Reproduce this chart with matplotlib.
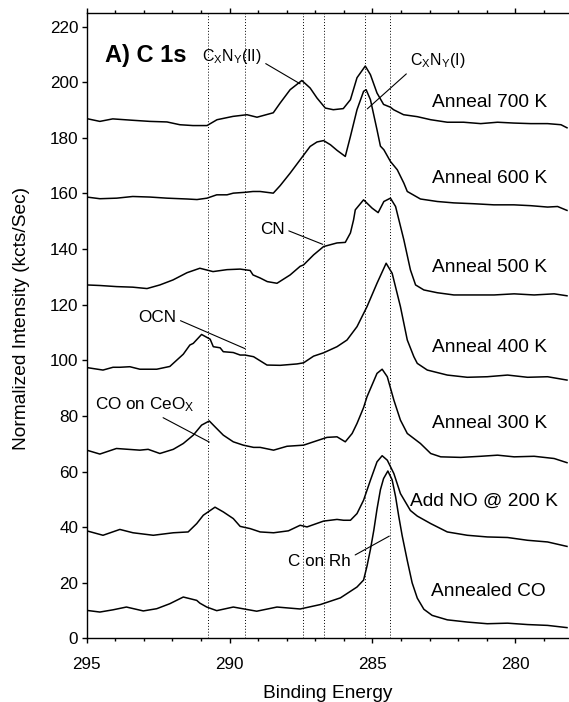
import matplotlib
matplotlib.use("Agg")
import matplotlib.pyplot as plt
from matplotlib.ticker import MultipleLocator

plt.rcParams['font.family'] = ['Liberation Sans', 'DejaVu Sans']
plt.rcParams['mathtext.default'] = 'regular'

# ---------------- data ----------------
e700 = [295.0, 294.54, 294.09, 293.39, 292.79, 292.19, 291.74, 291.28, 290.79, 290.44, 289.88, 289.39, 289.04,
        288.47, 288.23, 287.88, 287.47, 287.18, 286.94, 286.65, 286.37, 286.02, 285.77, 285.54, 285.25, 285.07,
        284.84, 284.61, 284.37, 284.26, 283.91, 283.43, 282.96, 282.38, 281.81, 281.21, 280.62, 280.05, 279.46,
        278.87, 278.40, 278.19]
i700 = [186.9, 185.9, 186.8, 186.3, 185.9, 185.7, 184.7, 184.4, 184.4, 186.5, 187.7, 188.3, 187.4,
        189.0, 192.5, 197.3, 200.6, 197.9, 194.3, 190.7, 190.1, 190.5, 193.7, 201.6, 205.8, 202.7,
        196.1, 192.0, 191.0, 190.1, 188.3, 187.6, 186.5, 185.6, 185.6, 185.1, 185.6, 185.3, 185.1,
        185.1, 184.7, 183.6]

e600 = [295.0, 294.54, 293.95, 293.39, 292.79, 292.19, 291.49, 291.14, 290.79, 290.45, 290.09, 289.87, 289.46,
        289.18, 288.93, 288.47, 288.23, 287.88, 287.53, 287.18, 286.94, 286.71, 286.47, 286.24, 285.95, 285.77,
        285.54, 285.31, 285.22, 285.07, 284.84, 284.72, 284.60, 284.37, 284.13, 283.90, 283.78, 283.32, 282.73,
        282.15, 281.46, 280.75, 280.05, 279.46, 278.87, 278.52, 278.19]
i600 = [158.7, 158.1, 158.3, 158.9, 158.7, 158.3, 158.0, 157.8, 158.3, 159.5, 159.5, 160.1, 160.4,
        160.7, 160.7, 160.1, 162.8, 167.3, 172.1, 176.9, 178.5, 179.0, 177.5, 175.5, 173.3, 180.5,
        190.1, 196.7, 197.3, 193.7, 182.9, 177.0, 175.7, 171.5, 168.5, 163.7, 160.7, 158.0, 157.1,
        156.6, 156.3, 155.9, 155.9, 155.6, 155.1, 155.3, 153.9]

e500 = [295.0, 294.54, 293.95, 293.39, 292.89, 292.44, 291.98, 291.49, 291.04, 290.58, 290.09, 289.63, 289.28,
        289.18, 288.93, 288.68, 288.34, 287.88, 287.53, 287.41, 287.06, 286.71, 286.24, 285.95, 285.77, 285.66,
        285.60, 285.31, 285.01, 284.80, 284.60, 284.37, 284.19, 283.90, 283.67, 283.49, 283.20, 282.73, 282.15,
        281.45, 280.74, 280.04, 279.34, 278.64, 278.19]
i500 = [127.1, 126.9, 126.5, 126.3, 125.8, 127.1, 128.9, 131.5, 133.1, 131.9, 132.6, 132.8, 132.3,
        130.7, 129.6, 128.3, 127.7, 130.7, 133.8, 134.3, 137.9, 140.9, 142.2, 142.4, 145.8, 150.5,
        154.1, 157.7, 154.7, 153.1, 157.1, 158.3, 155.3, 143.3, 132.5, 127.1, 125.3, 124.3, 123.5,
        123.5, 123.5, 123.9, 123.5, 123.9, 123.2]

e400 = [295.0, 294.43, 294.08, 293.84, 293.49, 293.14, 292.85, 292.55, 292.09, 291.62, 291.39, 291.27, 290.98,
        290.68, 290.57, 290.33, 290.22, 289.87, 289.63, 289.46, 289.16, 288.69, 288.23, 287.64, 287.41, 287.06,
        286.71, 286.24, 285.89, 285.54, 285.19, 284.84, 284.52, 284.31, 284.02, 283.78, 283.55, 283.43, 283.08,
        282.38, 281.68, 280.98, 280.27, 279.57, 278.87, 278.19]
i400 = [97.4, 96.5, 97.5, 97.5, 97.7, 96.8, 96.8, 96.8, 97.8, 102.2, 105.5, 106.1, 109.3,
        107.6, 104.9, 104.5, 103.1, 102.8, 101.9, 101.9, 101.3, 98.3, 98.2, 98.7, 99.1, 101.5,
        102.7, 104.9, 107.3, 112.1, 119.3, 127.7, 134.9, 131.3, 119.3, 107.3, 101.3, 98.9, 96.5,
        94.7, 93.9, 94.1, 94.7, 93.9, 94.1, 92.9]

e300 = [295.0, 294.54, 293.96, 293.14, 292.85, 292.44, 291.97, 291.62, 291.27, 290.98, 290.71, 290.51, 290.22,
        289.87, 289.52, 289.16, 288.93, 288.46, 287.99, 287.41, 287.06, 286.59, 286.24, 285.95, 285.71, 285.54,
        285.31, 285.19, 284.84, 284.66, 284.48, 284.25, 284.02, 283.78, 283.32, 282.96, 282.61, 281.91, 281.21,
        280.62, 280.04, 279.34, 278.64, 278.19]
i300 = [67.7, 66.3, 68.3, 67.7, 68.0, 66.5, 68.0, 70.1, 73.1, 76.7, 78.2, 76.1, 73.1,
        70.7, 69.5, 68.7, 68.7, 67.7, 69.1, 69.5, 70.7, 72.3, 72.5, 70.7, 73.7, 77.3,
        83.0, 86.9, 95.3, 96.8, 94.1, 85.7, 78.5, 73.7, 70.1, 66.5, 65.3, 65.1, 65.5,
        65.9, 65.3, 65.5, 64.7, 63.2]

e200 = [295.0, 294.43, 293.84, 293.38, 292.67, 291.97, 291.45, 291.15, 290.92, 290.51, 290.22, 289.87, 289.63,
        289.28, 288.93, 288.46, 287.94, 287.53, 287.29, 286.71, 286.24, 286.01, 285.77, 285.54, 285.31, 285.07,
        284.84, 284.66, 284.48, 284.25, 284.02, 283.67, 283.43, 282.96, 282.38, 281.68, 280.98, 280.27, 279.57,
        278.87, 278.19]
i200 = [38.7, 37.1, 39.2, 38.0, 37.1, 38.0, 38.3, 41.3, 44.3, 47.2, 45.5, 43.1, 40.3,
        39.5, 38.3, 38.0, 38.7, 40.7, 40.1, 42.2, 42.8, 42.5, 42.5, 44.9, 49.7, 56.9,
        63.5, 65.7, 64.1, 59.3, 52.1, 46.0, 44.0, 41.3, 38.3, 37.1, 36.5, 36.3, 35.3,
        34.7, 33.1]

eCO = [295.0, 294.54, 294.08, 293.61, 293.02, 292.55, 292.09, 291.62, 291.15, 291.04, 290.80, 290.45, 289.87,
       289.05, 288.34, 287.53, 286.82, 286.12, 285.54, 285.31, 285.19, 285.07, 284.95, 284.84, 284.72, 284.61,
       284.46, 284.31, 284.19, 284.08, 283.96, 283.78, 283.61, 283.43, 283.20, 282.91, 282.38, 281.68, 280.98,
       280.27, 279.57, 278.87, 278.19]
iCO = [10.1, 9.5, 10.3, 11.3, 9.9, 10.7, 12.5, 14.9, 13.7, 12.7, 11.3, 10.0, 11.3,
       9.8, 11.3, 10.6, 12.2, 14.6, 18.5, 21.0, 26.0, 32.0, 39.0, 46.5, 53.5, 57.5,
       60.2, 57.0, 51.0, 44.0, 37.0, 28.0, 20.0, 14.5, 10.5, 8.3, 6.7, 5.9, 5.3,
       5.5, 5.0, 4.7, 3.9]

series_energy = [e700, e600, e500, e400, e300, e200, eCO]
series_intensity = [i700, i600, i500, i400, i300, i200, iCO]
series_labels = ["Anneal 700 K", "Anneal 600 K", "Anneal 500 K", "Anneal 400 K",
                 "Anneal 300 K", "Add NO @ 200 K", "Annealed CO"]

# reference binding energies (dotted lines)
ref_energies = [290.77, 289.46, 287.43, 286.71, 285.25, 284.37]

# peak annotations
ann_texts = [r"C$_{X}$N$_{Y}$(II)", r"C$_{X}$N$_{Y}$(I)", "CN", "OCN",
             r"CO on CeO$_{X}$", "C on Rh"]
ann_targets_e = [287.53, 285.18, 286.74, 289.46, 290.71, 284.41]
ann_targets_i = [199.4, 190.4, 141.7, 104.2, 70.6, 36.8]

# ---------------- layout ----------------
label_pos = [(282.92, 190.9), (282.92, 163.6), (282.92, 131.6), (282.92, 103.1),
             (282.92, 75.5), (283.68, 47.7), (282.96, 15.2)]
ann_text_pos = [(290.96, 207.6), (283.68, 206.0), (288.93, 145.5), (293.19, 113.8),
                (294.71, 82.3), (287.94, 26.0)]
ann_relpos = [(1.0, 0.25), (0.0, 0.0), (1.0, 0.5), (1.0, 0.4), (0.62, 0.0), (1.0, 0.8)]
ann_sizes = [11.5, 11.5, 12.3, 12.3, 12.3, 12.3]

fig = plt.figure(figsize=(5.69, 7.02), dpi=100)
ax = fig.add_axes([0.1524, 0.0905, 0.8476, 0.8915])

for e, inten in zip(series_energy, series_intensity):
    assert len(e) == len(inten)
    ax.plot(e, inten, color='black', lw=1.1, solid_joinstyle='round')

for e in ref_energies:
    ax.axvline(e, color='black', lw=0.7, ls=(0, (1, 2)), zorder=0)

for txt, (x, y) in zip(series_labels, label_pos):
    ax.text(x, y, txt, fontsize=13.8, ha='left', va='baseline')

for txt, tx, ty, (px, py), rp, fs in zip(ann_texts, ann_targets_e, ann_targets_i,
                                          ann_text_pos, ann_relpos, ann_sizes):
    ax.annotate(txt, xy=(tx, ty), xytext=(px, py), fontsize=fs, ha='left', va='baseline',
                arrowprops=dict(arrowstyle='-', lw=0.8, color='black', relpos=rp,
                                shrinkA=1, shrinkB=0))

ax.text(294.36, 207.2, "A) C 1s", fontsize=17, fontweight='bold', ha='left', va='baseline')

ax.set_xlim(295, 278.12)
ax.set_ylim(0, 225)

ax.xaxis.set_major_locator(MultipleLocator(5))
ax.xaxis.set_minor_locator(MultipleLocator(1))
ax.yaxis.set_major_locator(MultipleLocator(20))

ax.tick_params(axis='x', which='major', direction='out', length=3.6, width=1.0,
               labelsize=12.3, pad=9.5, top=True)
ax.tick_params(axis='x', which='minor', direction='out', length=2.5, width=1.0, top=True)
ax.tick_params(axis='y', which='major', direction='out', length=3.6, width=1.0,
               labelsize=12.3, pad=2.5)

for side in ['left', 'bottom', 'top']:
    ax.spines[side].set_linewidth(1.0)
ax.spines['right'].set_visible(False)

ax.set_xlabel("Binding Energy", fontsize=13.8, ha='center', va='baseline')
ax.xaxis.set_label_coords(0.5003, -0.0954)
ax.set_ylabel("Normalized Intensity (kcts/Sec)", fontsize=13.8, va='center')
ax.yaxis.set_label_coords(-0.135, 0.5115)

fig.savefig("out.png", dpi=100)
